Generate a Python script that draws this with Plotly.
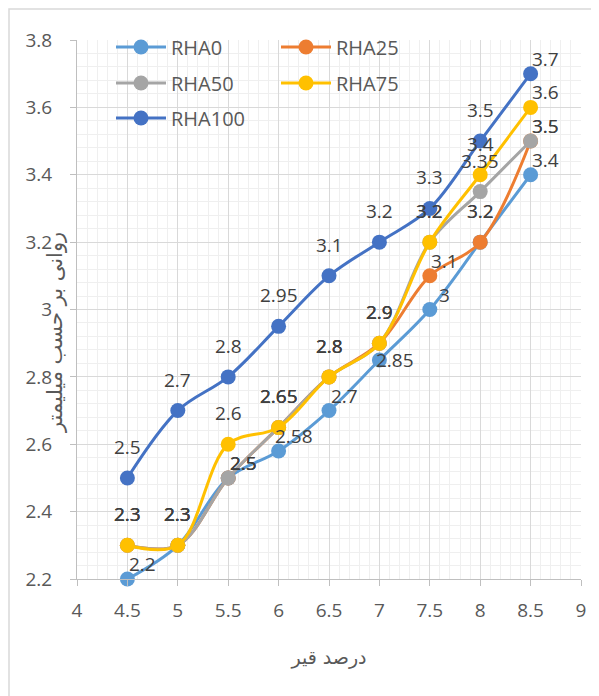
import plotly.graph_objects as go

# ---- data ----
x_vals = [4.5, 5, 5.5, 6, 6.5, 7, 7.5, 8, 8.5]
series_names = ["RHA0", "RHA25", "RHA50", "RHA75", "RHA100"]
rha0 = [2.2, 2.3, 2.5, 2.58, 2.7, 2.85, 3.0, 3.2, 3.4]
rha25 = [2.3, 2.3, 2.5, 2.65, 2.8, 2.9, 3.1, 3.2, 3.5]
rha50 = [2.3, 2.3, 2.5, 2.65, 2.8, 2.9, 3.2, 3.35, 3.5]
rha75 = [2.3, 2.3, 2.6, 2.65, 2.8, 2.9, 3.2, 3.4, 3.6]
rha100 = [2.5, 2.7, 2.8, 2.95, 3.1, 3.2, 3.3, 3.5, 3.7]
x_ticks = [4, 4.5, 5, 5.5, 6, 6.5, 7, 7.5, 8, 8.5, 9]
y_ticks = [2.2, 2.4, 2.6, 2.8, 3.0, 3.2, 3.4, 3.6, 3.8]
x_title = "درصد قیر"
y_title = "روانی بر حسب میلیمتر"

# ---- style ----
colors = ["#5B9BD5", "#ED7D31", "#A5A5A5", "#FFC000", "#4472C4"]
legend_ids = ["legend", "legend", "legend2", "legend2", "legend3"]
label_pos = [
    ["ar", "a", "ar", "ar", "ar", "r", "ar", "a", "ar"],
    ["a", "a", "ar", "a", "a", "a", "ar", "a", "ar"],
    ["a", "a", "ar", "a", "a", "a", "a", "a", "ar"],
    ["a", "a", "a", "a", "a", "a", "a", "a", "ar"],
    ["a", "a", "a", "a", "a", "a", "a", "a", "ar"],
]
shifts = {"a": (0, 31), "ar": (15, 15), "r": (16, 0)}
FONT = "Open Sans, DejaVu Sans, sans-serif"
AR_FONT = "DejaVu Sans, sans-serif"

# plot area in page pixels (page has an 8px body margin)
PL, PR, PT, PB = 77, 581, 40, 579
PW, PH = PR - PL, PB - PT
BODY = 8


def px(xp):
    return (xp - PL) / PW


def py(yp):
    return (PB - yp) / PH


all_series = [rha0, rha25, rha50, rha75, rha100]

fig = go.Figure()
for name, vals, col, lg in zip(series_names, all_series, colors, legend_ids):
    fig.add_trace(go.Scatter(
        x=x_vals, y=vals, name=name, mode="lines+markers",
        line=dict(color=col, width=3, shape="spline", smoothing=1),
        marker=dict(color=col, size=15),
        cliponaxis=False, legend=lg,
    ))

annotations = []
for vals, poss in zip(all_series, label_pos):
    for xv, yv, p in zip(x_vals, vals, poss):
        dx, dy = shifts[p]
        annotations.append(dict(
            x=xv, y=yv, xref="x", yref="y", text=f"{yv:g}", showarrow=False,
            xshift=dx, yshift=dy,
            font=dict(family=FONT, size=19, color="#404040"),
        ))

# y-axis title (overlapping tick labels as in reference)
annotations.append(dict(
    x=px(41), y=py(333), xref="paper", yref="paper",
    text=y_title, textangle=-90, showarrow=False,
    font=dict(family=AR_FONT, size=21, color="#595959"),
))


def legend_row(ypix):
    return dict(
        orientation="h", x=px(111), y=py(ypix),
        xanchor="left", yanchor="middle",
        entrywidth=100, entrywidthmode="pixels", itemwidth=50,
        font=dict(family=FONT, size=20, color="#595959"),
        bgcolor="rgba(0,0,0,0)",
    )


W, H = 599, 696
fig.update_layout(
    width=W, height=H,
    margin=dict(l=PL - BODY, r=W - (PR - BODY), t=PT - BODY, b=H - (PB - BODY)),
    paper_bgcolor="white", plot_bgcolor="white",
    font=dict(family=FONT, color="#595959"),
    showlegend=True,
    legend=legend_row(47),
    legend2=legend_row(83),
    legend3=legend_row(118),
    annotations=annotations,
    shapes=[dict(
        type="rect", xref="paper", yref="paper",
        x0=px(9), x1=px(640), y0=py(740), y1=py(9),
        line=dict(color="#d9d9d9", width=1.5), layer="below",
    )],
)

fig.update_xaxes(
    range=[4, 9], tickvals=x_ticks, ticktext=[f"{v:g}" for v in x_ticks],
    showgrid=True, gridcolor="#d9d9d9", gridwidth=1,
    minor=dict(dtick=0.1, tick0=4, showgrid=True, gridcolor="#efefef", gridwidth=1),
    showline=True, linecolor="#bfbfbf", linewidth=1,
    ticks="outside", ticklen=6, tickcolor="#bfbfbf",
    tickfont=dict(family=FONT, size=19, color="#595959"),
    ticklabelstandoff=8, automargin=False,
    zeroline=False,
    title=dict(text=x_title, font=dict(family=AR_FONT, size=19, color="#595959"), standoff=28),
)
fig.update_yaxes(
    range=[2.2, 3.8], tickvals=y_ticks, ticktext=[f"{v:g}" for v in y_ticks],
    showgrid=True, gridcolor="#d9d9d9", gridwidth=1,
    minor=dict(dtick=0.04, tick0=2.2, showgrid=True, gridcolor="#efefef", gridwidth=1),
    showline=True, linecolor="#bfbfbf", linewidth=1,
    ticks="outside", ticklen=6, tickcolor="#bfbfbf",
    tickfont=dict(family=FONT, size=19, color="#595959"),
    ticklabelstandoff=14, automargin=False,
    zeroline=False,
)

fig.write_html("out.html")
